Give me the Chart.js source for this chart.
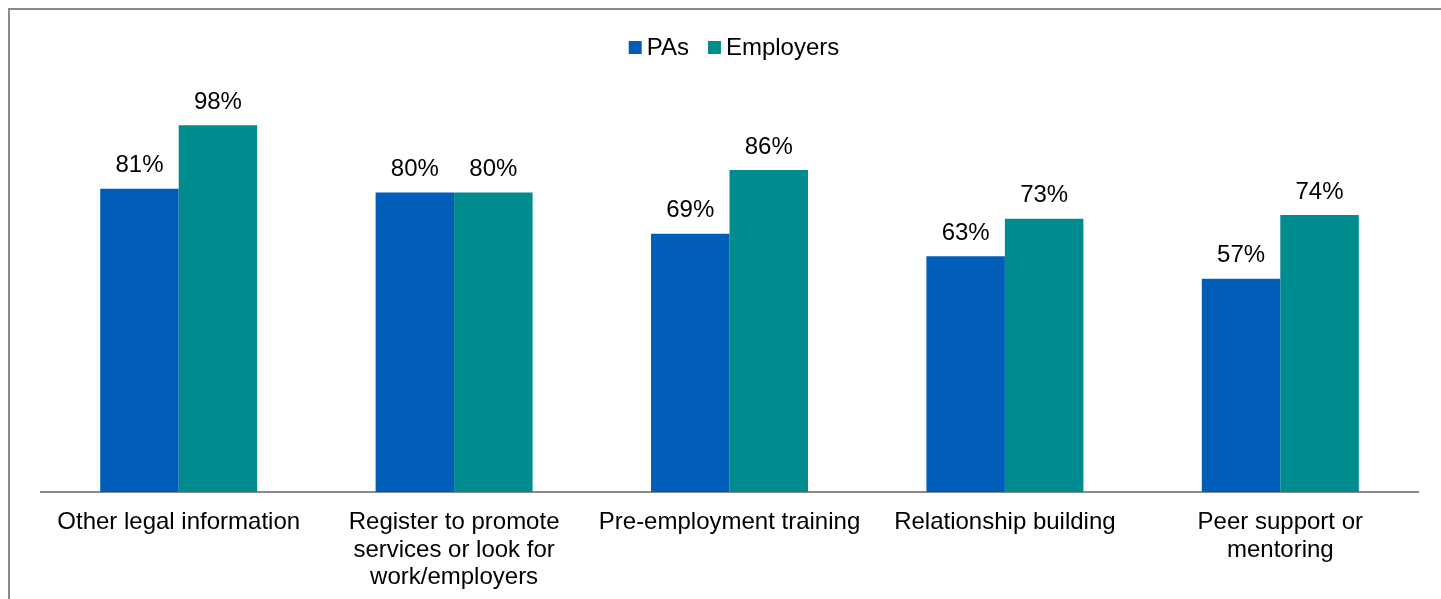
<!DOCTYPE html>
<html>
<head>
<meta charset="utf-8">
<script src="https://cdn.jsdelivr.net/npm/chart.js@4"></script>
<style>
  html, body { margin: 0; padding: 0; background: #fff; overflow: hidden; }
  #wrap { position: relative; width: 1441px; height: 599px; }
  #frame { position: absolute; left: 8px; top: 8px; width: 1500px; height: 700px; border: 2px solid #8a8a8a; box-sizing: border-box; pointer-events: none; }
  canvas { position: absolute; left: 0; top: 0; }
</style>
</head>
<body>
<div id="wrap">
  <canvas id="c" width="1441" height="599"></canvas>
  <div id="frame"></div>
</div>
<script>
const categories = [
  "Other legal information",
  ["Register to promote", "services or look for", "work/employers"],
  "Pre-employment training",
  "Relationship building",
  ["Peer support or", "mentoring"]
];
const seriesNames = ["PAs", "Employers"];
const pasValues = [81, 80, 69, 63, 57];
const employersValues = [98, 80, 86, 73, 74];
const colors = ["#005EB8", "#008B8F"];

const FONT = "'Liberation Sans', Arial, sans-serif";
const FSIZE = 24;

const labelPlugin = {
  id: 'labels',
  afterDatasetsDraw(chart) {
    const ctx = chart.ctx;
    ctx.save();
    ctx.font = FSIZE + "px " + FONT;
    ctx.fillStyle = "#000";
    ctx.textAlign = "center";
    ctx.textBaseline = "alphabetic";
    chart.data.datasets.forEach((ds, i) => {
      const meta = chart.getDatasetMeta(i);
      meta.data.forEach((bar, j) => {
        ctx.fillText(ds.data[j] + "%", bar.x, bar.y - 16.5);
      });
    });
    ctx.restore();
  }
};

const legendPlugin = {
  id: 'customLegend',
  afterDraw(chart) {
    const ctx = chart.ctx;
    ctx.save();
    ctx.font = FSIZE + "px " + FONT;
    ctx.textBaseline = "alphabetic";
    ctx.textAlign = "left";
    const box = 13, gapText = 5, gapItem = 19;
    const items = chart.data.datasets.map(d => ({ label: d.label, color: d.backgroundColor }));
    let total = 0;
    items.forEach((it, i) => {
      it.w = box + gapText + ctx.measureText(it.label).width;
      total += it.w + (i > 0 ? gapItem : 0);
    });
    let x = 734 - total / 2;
    const baseY = 55;
    items.forEach((it) => {
      ctx.fillStyle = it.color;
      ctx.fillRect(x, 41, box, box);
      ctx.fillStyle = "#000";
      ctx.fillText(it.label, x + box + gapText, baseY);
      x += it.w + gapItem;
    });
    ctx.restore();
  }
};

new Chart(document.getElementById('c'), {
  type: 'bar',
  data: {
    labels: categories,
    datasets: [
      { label: seriesNames[0], data: pasValues, backgroundColor: colors[0] },
      { label: seriesNames[1], data: employersValues, backgroundColor: colors[1] }
    ]
  },
  options: {
    responsive: false,
    animation: false,
    devicePixelRatio: 1,
    layout: { padding: { top: 117.7, left: 41, right: 23, bottom: 0 } },
    datasets: { bar: { categoryPercentage: 0.57, barPercentage: 1.0 } },
    plugins: {
      legend: { display: false },
      tooltip: { enabled: false }
    },
    scales: {
      x: {
        grid: { display: false, drawTicks: false },
        border: { display: true, color: "#8a8a8a", width: 2 },
        ticks: {
          color: "#000",
          font: { family: FONT, size: FSIZE, lineHeight: 1.145 },
          padding: 17,
          maxRotation: 0,
          autoSkip: false
        },
        afterFit(scale) { scale.height = 107; }
      },
      y: {
        display: false,
        min: 0,
        max: 100
      }
    }
  },
  plugins: [labelPlugin, legendPlugin]
});
</script>
</body>
</html>
